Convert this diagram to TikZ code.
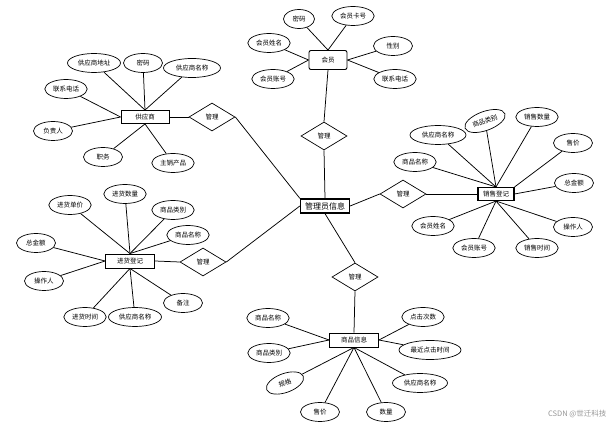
\documentclass[tikz,border=0pt]{standalone}
\usepackage{fontspec}
\setmainfont{Noto Sans CJK SC}
\usepackage{tikz}
\usetikzlibrary{shapes.geometric, positioning}
\usepackage{xcolor}
\definecolor{markgray}{RGB}{150, 150, 150}

\tikzset{
  attr/.style={draw, ellipse, fill=white, line width=0.7pt, font=\fontsize{6.5}{7}\selectfont, inner xsep=2pt, inner ysep=1pt, minimum width=39pt, minimum height=19pt},
  entity/.style={draw, fill=white, line width=0.9pt, font=\fontsize{6.5}{7}\selectfont, minimum width=48pt, minimum height=13pt, inner sep=1pt},
  rel/.style={draw, diamond, fill=white, line width=0.7pt, font=\fontsize{6.5}{7}\selectfont, minimum width=46pt, minimum height=28pt, inner sep=0pt},
  link/.style={line width=0.75pt}
}

\begin{document}
\begin{tikzpicture}[x=1pt, y=-1pt]
\useasboundingbox (0,0) rectangle (614,427);

% centre and the five relations
\node[draw, fill=white, line width=1.3pt, font=\fontsize{8}{9}\selectfont, minimum width=49pt, minimum height=14pt, inner sep=1pt] (admin) at (325,206) {管理员信息};
\node[rel] (r-top) at (324,136) {管理};
\node[rel] (r-right) at (403,194) {管理};
\node[rel] (r-bottom) at (355,277) {管理};
\node[rel] (r-ul) at (212,117) {管理};
\node[rel] (r-ll) at (203,262) {管理};
\draw[link] (admin.north) -- (r-top.south);
\draw[link] (admin.east) -- (r-right.west);
\draw[link] (admin.south) -- (r-bottom.north);
\draw[link] (admin.north west) -- (r-ul.east);
\draw[link] (admin.west) -- (r-ll.east);

% entities
\node[entity] (supplier) at (145,117) {供应商};
\node[entity, rounded corners=2pt, minimum width=38pt, minimum height=19pt] (member) at (328,60) {会员};
\node[entity, line width=1.1pt, minimum width=36pt] (sale) at (496,194) {销售登记};
\node[entity, minimum width=49pt, minimum height=14pt] (stock) at (130,261) {进货登记};
\node[entity, minimum width=49pt, minimum height=14pt] (goods) at (354,340) {商品信息};
\draw[link] (r-top.north) -- (member.south);
\draw[link] (r-right.east) -- (sale.west);
\draw[link] (r-bottom.south) -- (goods.north);
\draw[link] (r-ul.west) -- (supplier.east);
\draw[link] (r-ll.west) -- (stock.east);

% supplier attributes
\node[attr, minimum width=53pt] (sup-addr) at (94,63) {供应商地址};
\node[attr] (sup-pwd) at (143,63) {密码};
\node[attr, minimum width=57pt] (sup-name) at (192,68) {供应商名称};
\node[attr] (sup-tel) at (66,89) {联系电话};
\node[attr] (sup-head) at (53,131) {负责人};
\node[attr] (sup-post) at (103,157) {职务};
\node[attr] (sup-prod) at (173,163) {主销产品};
\foreach \a in {addr, pwd, name} \draw[link] (sup-\a) -- (supplier.north);
\foreach \a in {tel, head} \draw[link] (sup-\a) -- (supplier.west);
\foreach \a in {post, prod} \draw[link] (sup-\a) -- (supplier.south);

% member attributes
\node[attr, minimum width=31pt] (mem-pwd) at (299,19) {密码};
\node[attr] (mem-card) at (353,16) {会员卡号};
\node[attr] (mem-name) at (269,43) {会员姓名};
\node[attr] (mem-sex) at (393,46) {性别};
\node[attr] (mem-acct) at (273,79) {会员账号};
\node[attr] (mem-tel) at (395,79) {联系电话};
\foreach \a in {pwd, card} \draw[link] (mem-\a) -- (member.north);
\foreach \a in {name, acct} \draw[link] (mem-\a) -- (member.west);
\foreach \a in {sex, tel} \draw[link] (mem-\a) -- (member.east);

% sale attributes
\node[attr, rotate=20] (sale-type) at (485,121) {商品类别};
\node[attr] (sale-num) at (537,117) {销售数量};
\node[attr, minimum width=56pt] (sale-sup) at (438,135) {供应商名称};
\node[attr] (sale-price) at (573,143) {售价};
\node[attr] (sale-name) at (415,162) {商品名称};
\node[attr] (sale-sum) at (574,183) {总金额};
\node[attr] (sale-op) at (573,227) {操作人};
\node[attr] (sale-mname) at (433,226) {会员姓名};
\node[attr] (sale-macct) at (474,248) {会员账号};
\node[attr] (sale-time) at (537,248) {销售时间};
\foreach \a in {type, num, sup, name} \draw[link] (sale-\a) -- (sale.north);
\draw[link] (sale-price) -- (sale.north east);
\draw[link] (sale-sum) -- (sale.east);
\foreach \a in {op, mname, macct, time} \draw[link] (sale-\a) -- (sale.south);

% stock attributes
\node[attr] (stk-num) at (125,194) {进货数量};
\node[attr] (stk-unit) at (70,205) {进货单价};
\node[attr] (stk-type) at (173,210) {商品类别};
\node[attr] (stk-name) at (188,235) {商品名称};
\node[attr] (stk-sum) at (36,243) {总金额};
\node[attr] (stk-op) at (44,281) {操作人};
\node[attr] (stk-note) at (183,303) {备注};
\node[attr] (stk-time) at (85,317) {进货时间};
\node[attr, minimum width=53pt] (stk-sup) at (135,317) {供应商名称};
\foreach \a in {num, unit, type, name} \draw[link] (stk-\a) -- (stock.north);
\foreach \a in {sum, op} \draw[link] (stk-\a) -- (stock.west);
\foreach \a in {note, time, sup} \draw[link] (stk-\a) -- (stock.south);

% goods attributes
\node[attr] (gd-name) at (268,318) {商品名称};
\node[attr] (gd-click) at (423,317) {点击次数};
\node[attr] (gd-type) at (269,353) {商品类别};
\node[attr, minimum width=62pt] (gd-last) at (430,350) {最近点击时间};
\node[attr, rotate=20] (gd-spec) at (285,383) {规格};
\node[attr, minimum width=55pt] (gd-sup) at (420,383) {供应商名称};
\node[attr] (gd-price) at (320,412) {售价};
\node[attr] (gd-num) at (386,412) {数量};
\foreach \a in {name, type} \draw[link] (gd-\a) -- (goods.west);
\foreach \a in {click, last} \draw[link] (gd-\a) -- (goods.east);
\foreach \a in {spec, sup, price, num} \draw[link] (gd-\a) -- (goods.south);

\node[text=markgray, font=\fontsize{7.5}{8}\selectfont, anchor=east] (mark) at (610,414) {CSDN @世迁科技};
\end{tikzpicture}
\end{document}
